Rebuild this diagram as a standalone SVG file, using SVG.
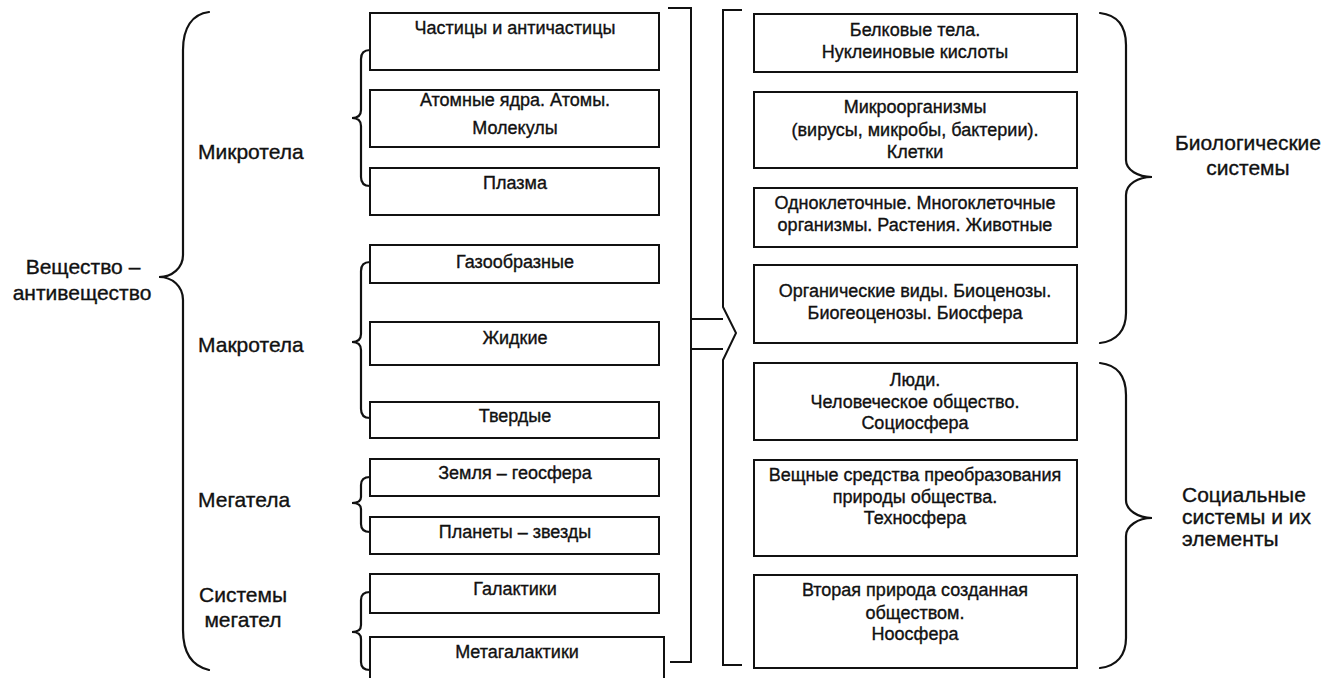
<svg xmlns="http://www.w3.org/2000/svg" width="1329" height="678" viewBox="0 0 1329 678">
<style>
.box{fill:#fff;stroke:#111;stroke-width:2}
.ln{fill:none;stroke:#111;stroke-width:2;stroke-linejoin:miter}
.br{fill:none;stroke:#111;stroke-width:2.2;stroke-linecap:round}
text{font-family:"Liberation Sans",Arial,sans-serif;fill:#111;stroke:#111;stroke-width:0.35}
.t{font-size:18px;text-anchor:middle}
.lab{font-size:21px}
.c{text-anchor:middle}
</style>
<rect width="1329" height="678" fill="#fff"/>

<g id="connectors">
  <path class="br" d="M 209 12 C 192 14 183 28 183 50 L 183 255 C 183 268 172 277 159 277 C 172 277 183 286 183 300 L 183 630 C 183 652 192 666 209 670"/>
  <path class="br" d="M 370 50 Q 361 50 361 59 L 361 110 Q 361 118 352 118 Q 361 118 361 126 L 361 177 Q 361 186 370 186"/>
  <path class="br" d="M 370 262 Q 361 262 361 271 L 361 334 Q 361 342 352 342 Q 361 342 361 350 L 361 409 Q 361 418 370 418"/>
  <path class="br" d="M 370 477 Q 361 477 361 485 L 361 497 Q 361 503 352 503 Q 361 503 361 509 L 361 524 Q 361 532 370 532"/>
  <path class="br" d="M 370 592 Q 361 592 361 600 L 361 625 Q 361 632 352 632 Q 361 632 361 639 L 361 662 Q 361 670 370 670"/>
  <path class="ln" d="M 668 8 L 691 8 L 691 662 L 670 662"/>
  <path class="ln" d="M 691 319 L 723 319 M 691 349 L 723 349"/>
  <path class="ln" d="M 742 10 L 723 10 L 723 307 L 736 333 L 723 360 L 723 665 L 742 665"/>
  <path class="br" d="M 1100 13 C 1117 15 1126 26 1126 45 L 1126 160 C 1126 170 1138 177 1152 177 C 1138 177 1126 184 1126 195 L 1126 313 C 1126 330 1117 341 1100 343"/>
  <path class="br" d="M 1100 363 C 1117 365 1126 376 1126 395 L 1126 500 C 1126 510 1138 518 1152 518 C 1138 518 1126 526 1126 536 L 1126 638 C 1126 655 1117 666 1100 668"/>
</g>

<g id="labels-left">
  <text class="lab c" x="83" y="274">Вещество –</text>
  <text class="lab c" x="82" y="300">антивещество</text>
  <text class="lab" x="198" y="159">Микротела</text>
  <text class="lab" x="198" y="352">Макротела</text>
  <text class="lab" x="198" y="507">Мегатела</text>
  <text class="lab c" x="243" y="602">Системы</text>
  <text class="lab c" x="243" y="627">мегател</text>
</g>

<g id="n1"><rect class="box" x="370" y="13" width="289" height="57"/><text class="t" x="515" y="34">Частицы и античастицы</text></g>
<g id="n2"><rect class="box" x="370" y="90" width="289" height="57"/><text class="t" x="515" y="106">Атомные ядра. Атомы.</text><text class="t" x="515" y="134">Молекулы</text></g>
<g id="n3"><rect class="box" x="370" y="168" width="289" height="47"/><text class="t" x="515" y="189">Плазма</text></g>
<g id="n4"><rect class="box" x="370" y="245" width="289" height="38"/><text class="t" x="515" y="268">Газообразные</text></g>
<g id="n5"><rect class="box" x="370" y="322" width="289" height="43"/><text class="t" x="515" y="344">Жидкие</text></g>
<g id="n6"><rect class="box" x="370" y="402" width="289" height="36"/><text class="t" x="515" y="422">Твердые</text></g>
<g id="n7"><rect class="box" x="370" y="459" width="289" height="37"/><text class="t" x="515" y="479">Земля – геосфера</text></g>
<g id="n8"><rect class="box" x="370" y="517" width="289" height="37"/><text class="t" x="515" y="538">Планеты – звезды</text></g>
<g id="n9"><rect class="box" x="370" y="574" width="289" height="39"/><text class="t" x="515" y="595">Галактики</text></g>
<g id="n10"><rect class="box" x="370" y="637" width="294" height="50"/><text class="t" x="517" y="658">Метагалактики</text></g>

<g id="r1"><rect class="box" x="754" y="14" width="323" height="58"/><text class="t" x="915" y="36">Белковые тела.</text><text class="t" x="915" y="58">Нуклеиновые кислоты</text></g>
<g id="r2"><rect class="box" x="754" y="92" width="323" height="76"/><text class="t" x="915" y="113">Микроорганизмы</text><text class="t" x="915" y="136">(вирусы, микробы, бактерии).</text><text class="t" x="915" y="158">Клетки</text></g>
<g id="r3"><rect class="box" x="754" y="188" width="323" height="59"/><text class="t" x="915" y="209">Одноклеточные. Многоклеточные</text><text class="t" x="915" y="231">организмы. Растения. Животные</text></g>
<g id="r4"><rect class="box" x="754" y="265" width="323" height="78"/><text class="t" x="915" y="297">Органические виды. Биоценозы.</text><text class="t" x="915" y="319">Биогеоценозы. Биосфера</text></g>
<g id="r5"><rect class="box" x="754" y="363" width="323" height="77"/><text class="t" x="915" y="386">Люди.</text><text class="t" x="915" y="408">Человеческое общество.</text><text class="t" x="915" y="429">Социосфера</text></g>
<g id="r6"><rect class="box" x="754" y="460" width="323" height="96"/><text class="t" x="915" y="481">Вещные средства преобразования</text><text class="t" x="915" y="503">природы общества.</text><text class="t" x="915" y="524">Техносфера</text></g>
<g id="r7"><rect class="box" x="754" y="575" width="323" height="93"/><text class="t" x="915" y="596">Вторая природа созданная</text><text class="t" x="915" y="619">обществом.</text><text class="t" x="915" y="640">Ноосфера</text></g>

<g id="labels-right">
  <text class="lab c" x="1248" y="150">Биологические</text>
  <text class="lab c" x="1248" y="175">системы</text>
  <text class="lab" x="1182" y="502">Социальные</text>
  <text class="lab" x="1182" y="524">системы и их</text>
  <text class="lab" x="1182" y="546">элементы</text>
</g>
</svg>
